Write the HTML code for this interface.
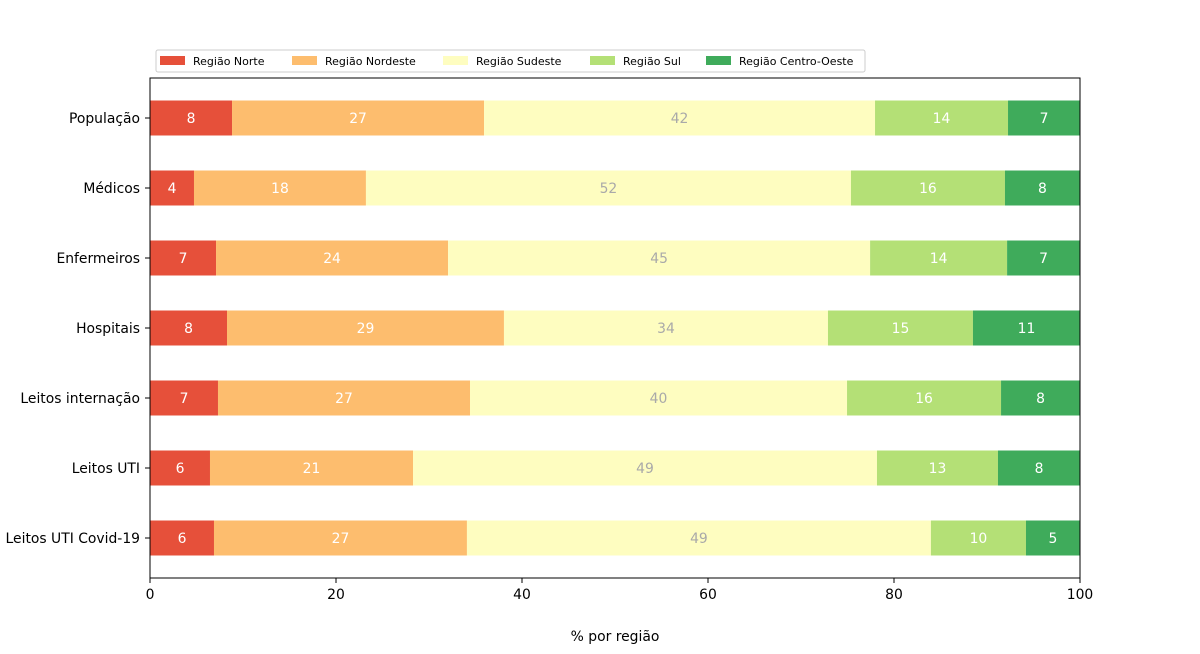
<!DOCTYPE html>
<html><head><meta charset="utf-8"><style>
body{margin:0;background:#fff;font-family:"DejaVu Sans","Liberation Sans",sans-serif;}
</style></head><body>
<svg id="chart" width="1200" height="650" xmlns="http://www.w3.org/2000/svg" font-family="DejaVu Sans, Liberation Sans, sans-serif"></svg>
<script>
const categories=["População","Médicos","Enfermeiros","Hospitais","Leitos internação","Leitos UTI","Leitos UTI Covid-19"];
const seriesNames=["Região Norte","Região Nordeste","Região Sudeste","Região Sul","Região Centro-Oeste"];
const norte=[8.82,4.73,7.10,8.28,7.31,6.45,6.88];
const nordeste=[27.10,18.49,24.95,29.78,27.10,21.83,27.20];
const sudeste=[42.04,52.15,45.38,34.84,40.54,49.89,49.89];
const sul=[14.30,16.56,14.73,15.59,16.56,13.01,10.22];
const centro=[7.74,8.06,7.85,11.51,8.49,8.82,5.81];
const xTicks=[0,20,40,60,80,100];
const colors=["#e6503a","#fdbd6e","#fefdc0","#b4e076","#3fab5b"];
const textColors=["#fff","#fff","#a9a9a9","#fff","#fff"];
const series=[norte,nordeste,sudeste,sul,centro];
const svg=document.getElementById('chart');
const NS="http://www.w3.org/2000/svg";
const X0=150,X1=1080,Y0=78,Y1=578;
const x=v=>X0+(v/100)*(X1-X0);
const y=i=>118+i*70;
function mk(t,a,txt){const e=document.createElementNS(NS,t);for(const k in a)e.setAttribute(k,a[k]);if(txt!==undefined)e.textContent=txt;svg.appendChild(e);return e;}
categories.forEach((c,i)=>{
  let acc=0;
  series.forEach((s,j)=>{
    const v=s[i];
    const r=mk('rect',{x:x(acc),y:y(i)-17.5,width:x(acc+v)-x(acc),height:35,fill:colors[j]});
    
    
    const t=mk('text',{x:x(acc+v/2),y:y(i)+5,'text-anchor':'middle','font-size':13.9,fill:textColors[j]},String(Math.floor(v)));
    
    
    acc+=v;
  });
  const l=mk('text',{x:140,y:y(i)+5,'text-anchor':'end','font-size':13.9,fill:'#000'},c);
  
  
  mk('line',{x1:145,x2:150,y1:y(i),y2:y(i),stroke:'#000'});
});
const f=mk('rect',{x:X0,y:Y0,width:X1-X0,height:Y1-Y0,fill:'none',stroke:'#000','stroke-width':1});


xTicks.forEach(v=>{
  mk('line',{x1:x(v),x2:x(v),y1:Y1,y2:Y1+5,stroke:'#000'});
  const t=mk('text',{x:x(v),y:599,'text-anchor':'middle','font-size':13.9,fill:'#000'},String(v));
  
  
});
const xl=mk('text',{x:615,y:641,'text-anchor':'middle','font-size':13.9,fill:'#000'},'% por região');


const lg=mk('rect',{x:156,y:50,width:709,height:22,rx:2,fill:'#fff',stroke:'#ccc'});


const lx=[160,292,443,590,706];
seriesNames.forEach((n,j)=>{
  mk('rect',{x:lx[j],y:56,width:25,height:9,fill:colors[j]});
  const t=mk('text',{x:lx[j]+33,y:65,'font-size':11,fill:'#000'},n);
  
  
});
</script>
</body></html>
